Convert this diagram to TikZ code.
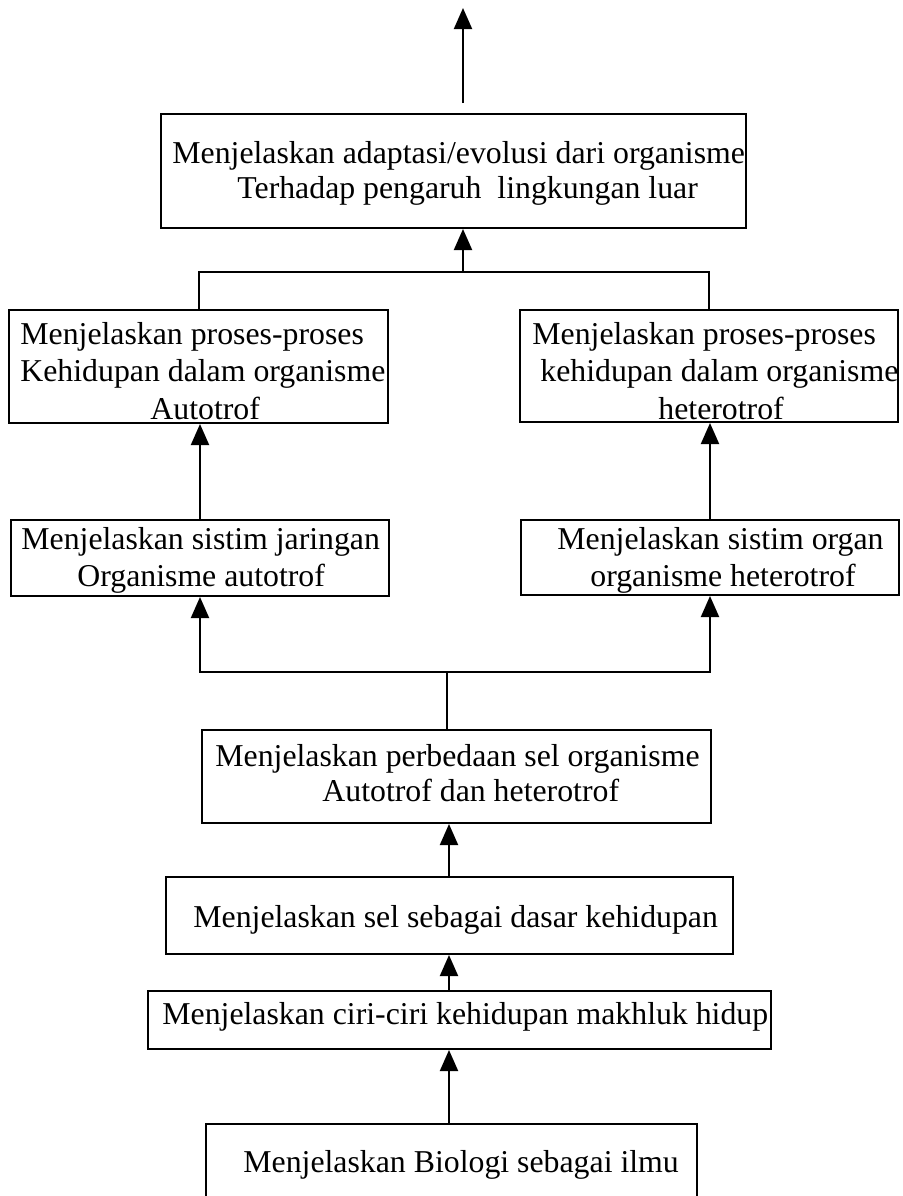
\documentclass[tikz,border=0pt]{standalone}
\usepackage{fontspec}
\setmainfont{Liberation Serif}
\usetikzlibrary{arrows.meta}
\begin{document}
\begin{tikzpicture}[x=0.5pt,y=-0.5pt,
  box/.style={draw, line width=1pt, inner sep=0pt},
  txt/.style={inner sep=0pt, anchor=mid west, font=\fontsize{15.9}{18}\selectfont},
  arr/.style={line width=1pt, -{Triangle[length=10.5pt,width=9pt]}},
  ln/.style={line width=1pt}]
\clip (0,0) rectangle (902,1196);
\fill[white] (0,0) rectangle (902,1196);

% boxes
\node[box, minimum width=292.5pt, minimum height=57pt]   (B1)  at (453.5,171) {};
\node[box, minimum width=189.5pt, minimum height=56.5pt] (B2L) at (198.5,366.5) {};
\node[box, minimum width=189pt,   minimum height=56pt]   (B2R) at (709,366) {};
\node[box, minimum width=189pt,   minimum height=38pt]   (B3L) at (200,558) {};
\node[box, minimum width=189pt,   minimum height=37.5pt] (B3R) at (710,557.5) {};
\node[box, minimum width=254.5pt, minimum height=46.5pt] (B4)  at (456.5,776.5) {};
\node[box, minimum width=283.5pt, minimum height=38.5pt] (B5)  at (449.5,915.5) {};
\node[box, minimum width=311.5pt, minimum height=29pt]   (B6)  at (459.5,1020) {};
\node[box, minimum width=245.5pt, minimum height=53pt]   (B7)  at (451.5,1177) {};

% texts
\node[txt] (t1a) at (172,159) {Menjelaskan adaptasi/evolusi dari organisme};
\node[txt] (t1b) at (237,194) {Terhadap pengaruh\ \ lingkungan luar};
\node[txt] (t2a) at (20,340) {Menjelaskan proses-proses};
\node[txt] (t2b) at (20,377) {Kehidupan dalam organisme};
\node[txt] (t2c) at (150,415) {Autotrof};
\node[txt] (t3a) at (532,340) {Menjelaskan proses-proses};
\node[txt] (t3b) at (540,377) {kehidupan dalam organisme};
\node[txt] (t3c) at (658,415) {heterotrof};
\node[txt] (t4a) at (21,545) {Menjelaskan sistim jaringan};
\node[txt] (t4b) at (77,582) {Organisme autotrof};
\node[txt] (t5a) at (557,545) {Menjelaskan sistim organ};
\node[txt] (t5b) at (590,582) {organisme heterotrof};
\node[txt] (t6a) at (215,762) {Menjelaskan perbedaan sel organisme};
\node[txt] (t6b) at (322,797) {Autotrof dan heterotrof};
\node[txt] (t7) at (193,923) {Menjelaskan sel sebagai dasar kehidupan};
\node[txt] (t8) at (162,1020) {Menjelaskan ciri-ciri kehidupan makhluk hidup};
\node[txt] (t9) at (243,1168) {Menjelaskan Biologi sebagai ilmu};

% connectors
\coordinate (topS) at (463,103);
\coordinate (topE) at (463,8);
\draw[arr] (topS) -- (topE);

\coordinate (j1) at (463,272);
\draw[arr] (j1) -- (j1 |- B1.south);
\draw[ln] (B2L.north) |- (j1) -| (B2R.north);

\draw[arr] (B3L.north) -- (B3L.north |- B2L.south);
\draw[arr] (B3R.north) -- (B3R.north |- B2R.south);

\coordinate (j2) at (447,672);
\draw[ln] (B4.north -| j2) -- (j2);
\draw[arr] (j2) -| (B3L.south);
\draw[arr] (j2) -| (B3R.south);

\coordinate (sp) at (449,0);
\draw[arr] (B5.north -| sp) -- (B4.south -| sp);
\draw[arr] (B6.north -| sp) -- (B5.south -| sp);
\draw[arr] (B7.north -| sp) -- (B6.south -| sp);
\end{tikzpicture}
\end{document}
